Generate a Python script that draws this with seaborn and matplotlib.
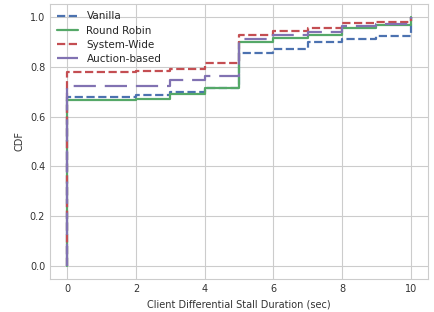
import matplotlib
matplotlib.use("Agg")
import matplotlib.pyplot as plt
import seaborn as sns
import pandas as pd

# stall duration steps (sec) and CDF values per policy
stall_sec = [0, 0, 2, 3, 4, 5, 6, 7, 8, 9, 10]
vanilla = [0.0, 0.680, 0.688, 0.700, 0.714, 0.856, 0.872, 0.900, 0.910, 0.923, 1.0]
round_robin = [0.0, 0.667, 0.671, 0.690, 0.714, 0.898, 0.916, 0.927, 0.955, 0.967, 1.0]
system_wide = [0.0, 0.778, 0.783, 0.791, 0.813, 0.927, 0.944, 0.956, 0.976, 0.980, 1.0]
auction = [0.0, 0.723, 0.723, 0.747, 0.763, 0.910, 0.928, 0.940, 0.963, 0.971, 1.0]

series = {
    "Vanilla": vanilla,
    "Round Robin": round_robin,
    "System-Wide": system_wide,
    "Auction-based": auction,
}
colors = {"Vanilla": "#4C72B0", "Round Robin": "#55A868",
          "System-Wide": "#C44E52", "Auction-based": "#8172B2"}
styles = {"Vanilla": (3.7, 1.6), "Round Robin": None,
          "System-Wide": (3.7, 1.6), "Auction-based": (10, 4)}

sns.set_style("whitegrid")
plt.rcParams["font.family"] = ["DejaVu Sans"]

fig, ax = plt.subplots(figsize=(4.35, 3.12), dpi=100)
fig.subplots_adjust(left=0.115, right=0.984, bottom=0.106, top=0.987)

for name, vals in series.items():
    d = pd.DataFrame({"x": stall_sec, "y": vals})
    sns.lineplot(data=d, x="x", y="y", ax=ax, estimator=None, sort=False,
                 drawstyle="steps-post", color=colors[name], lw=1.6,
                 label=name)
    l = ax.get_lines()[-1]
    if styles[name] is not None:
        l.set_dashes(styles[name])

ax.set_xlim(-0.5, 10.5)
ax.set_ylim(-0.05, 1.05)
ax.set_xlabel("Client Differential Stall Duration (sec)", fontsize=7, color="#333333")
ax.set_ylabel("CDF", fontsize=7, color="#333333")
ax.tick_params(labelsize=7, colors="#333333", length=0)
ax.legend(loc="upper left", fontsize=7.5, frameon=False, handlelength=2.0,
          borderaxespad=0.3, labelspacing=0.4)

fig.savefig("out.png", dpi=100)
